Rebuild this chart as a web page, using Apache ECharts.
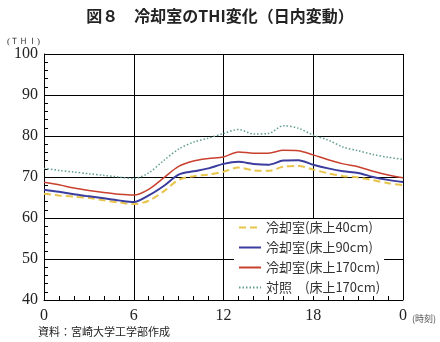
<!DOCTYPE html>
<html><head><meta charset="utf-8">
<script src="https://cdn.jsdelivr.net/npm/echarts@6/dist/echarts.min.js"></script>
<style>html,body{margin:0;padding:0;background:#fff}#c{width:440px;height:342px}</style>
</head><body><div id="c"></div>
<script>
const hours = [0,1,2,3,4,5,6,7,8,9,10,11,12,13,14,15,16,17,18,19,20,21,22,23,24];
const seriesNames = ['冷却室(床上40cm)','冷却室(床上90cm)','冷却室(床上170cm)','対照　(床上170cm)'];
const cool40  = [65.9,65.5,65.2,64.9,64.3,63.8,63.4,64.2,66.5,69.3,70.2,70.6,71.3,72.3,71.6,71.5,72.5,72.7,71.8,70.9,70.2,69.9,69.2,68.5,68.0];
const cool90  = [66.9,66.4,65.8,65.3,64.8,64.3,63.9,65.5,67.8,70.6,71.4,72.1,73.2,73.7,73.2,73.0,74.0,74.1,73.0,72.1,71.4,71.0,70.0,69.3,68.8];
const cool170 = [68.7,68.1,67.3,66.7,66.2,65.8,65.6,67.0,69.8,72.6,73.9,74.5,74.9,76.1,75.8,75.8,76.5,76.4,75.4,74.2,73.2,72.5,71.4,70.5,69.8];
const control = [72.1,71.6,71.2,70.8,70.4,70.0,69.6,71.0,74.0,76.8,78.5,79.5,80.6,81.6,80.5,80.6,82.5,81.9,80.2,79.0,77.3,76.4,75.5,74.8,74.3];
const xTicks = {0:'0',6:'6',12:'12',18:'18',24:'0'};

const pair = arr => hours.map((h,i)=>[h,arr[i]]);
const serifF = '"Liberation Serif","DejaVu Serif",serif';
const cjk = '"Noto Sans CJK JP","Noto Sans",sans-serif';

const chart = echarts.init(document.getElementById('c'));
chart.setOption({
  animation:false,
  backgroundColor:'#fff',
  title:{text:'図８　冷却室のTHI変化（日内変動）',left:'center',top:3,
    textStyle:{fontFamily:cjk,fontSize:16,fontWeight:'bold',color:'#222'}},
  grid:{left:44,right:37,top:54,bottom:42},
  legend:{
    data:seriesNames, orient:'vertical', left:234, top:219, itemGap:7,
    itemWidth:22, itemHeight:8, backgroundColor:'#fff', padding:[2,4,2,4],
    itemStyle:{opacity:0},
    textStyle:{fontFamily:cjk,fontSize:13,color:'#333'}
  },
  xAxis:{type:'value',min:0,max:24,interval:6,
    axisLine:{lineStyle:{color:'#000',width:1}},
    axisTick:{show:true,inside:true,length:4,lineStyle:{color:'#000'}},
    minorTick:{show:true,splitNumber:6,length:4,lineStyle:{color:'#000'}},
    axisLabel:{formatter:v=>xTicks[v],fontFamily:serifF,fontSize:16,color:'#222',margin:8},
    splitLine:{show:true,lineStyle:{color:'#000',width:1}}
  },
  yAxis:{type:'value',min:40,max:100,interval:10,
    name:'(ＴＨＩ)',nameLocation:'end',nameGap:6,
    nameTextStyle:{fontFamily:serifF,fontSize:9,color:'#333',align:'right',padding:[0,4,0,0]},
    axisLine:{show:true,lineStyle:{color:'#000',width:1}},
    axisTick:{show:true,inside:true,length:4,lineStyle:{color:'#000'}},
    minorTick:{show:true,splitNumber:5,length:4,lineStyle:{color:'#000'}},
    axisLabel:{fontFamily:serifF,fontSize:16,color:'#222',margin:6},
    splitLine:{show:true,lineStyle:{color:'#000',width:1}}
  },
  series:[
    {name:seriesNames[0],type:'line',data:pair(cool40),symbol:'none',smooth:0.3,
     lineStyle:{color:'#e8c44a',width:2,type:[7,4]},itemStyle:{color:'#e8c44a'}},
    {name:seriesNames[1],type:'line',data:pair(cool90),symbol:'none',smooth:0.3,
     lineStyle:{color:'#3a3d9e',width:2},itemStyle:{color:'#3a3d9e'}},
    {name:seriesNames[2],type:'line',data:pair(cool170),symbol:'none',smooth:0.3,
     lineStyle:{color:'#c8402e',width:1.5},itemStyle:{color:'#c8402e'}},
    {name:seriesNames[3],type:'line',data:pair(control),symbol:'none',smooth:0.3,
     lineStyle:{color:'#5f9e92',width:1.5,type:[1.5,2]},itemStyle:{color:'#5f9e92'}}
  ],
  graphic:[
    {type:'text',left:412,top:314,style:{text:'(時刻)',font:'9px "Noto Sans CJK JP"',fill:'#555'}},
    {type:'text',left:38,top:326,style:{text:'資料：宮崎大学工学部作成',font:'11px "Noto Sans CJK JP"',fill:'#222'}}
  ]
});
</script></body></html>
